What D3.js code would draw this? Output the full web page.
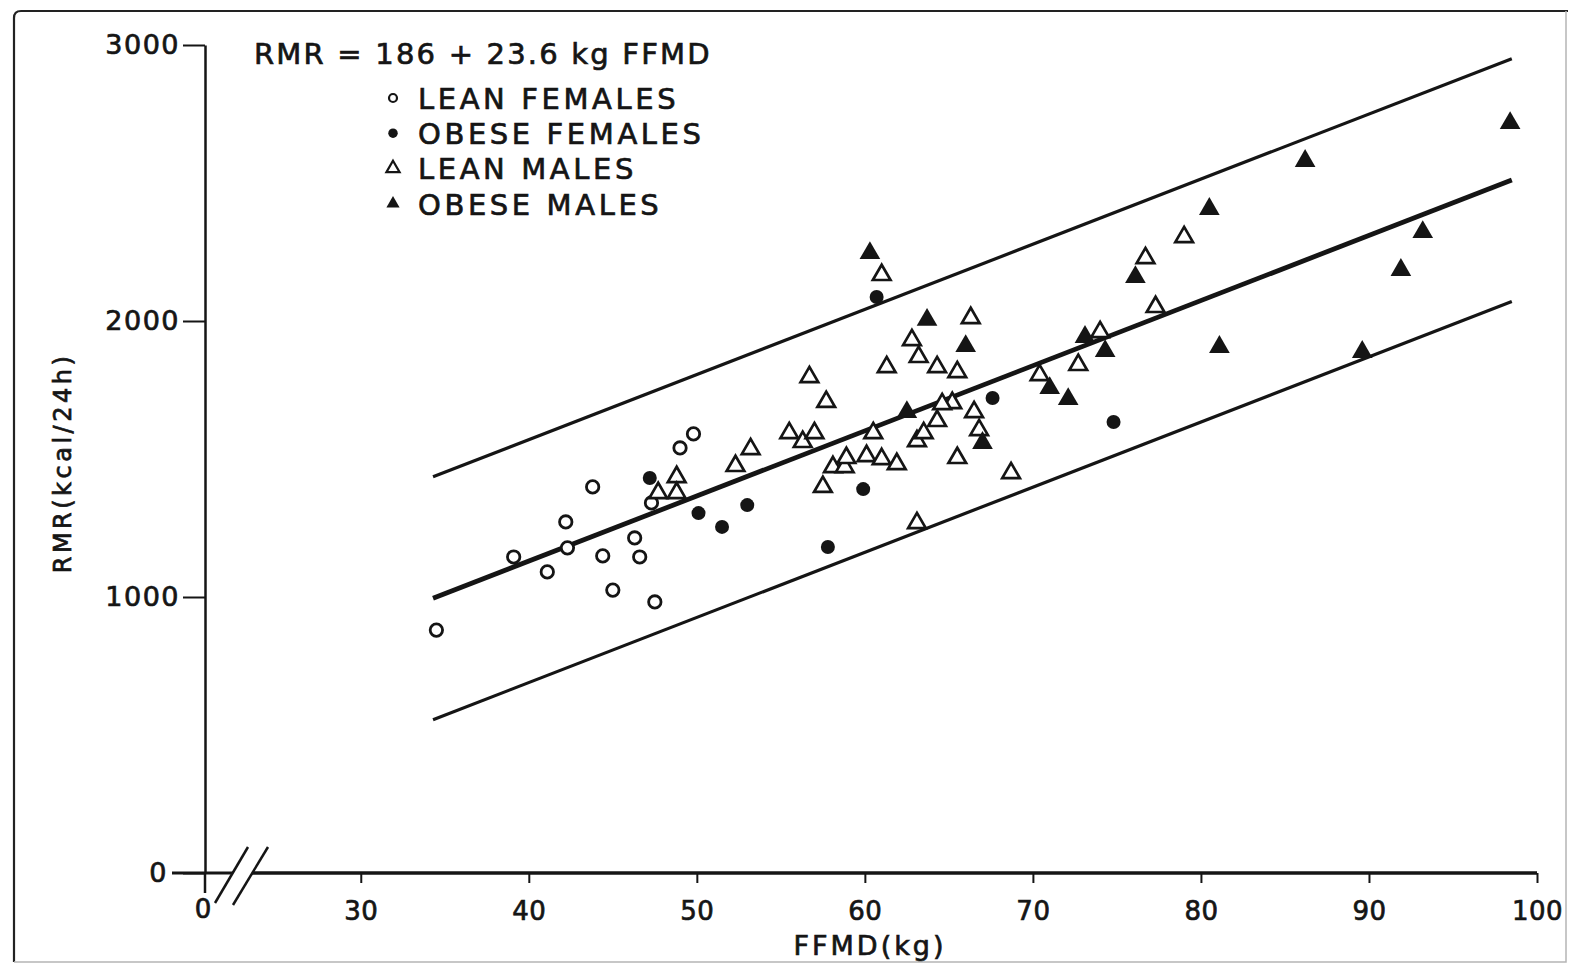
<!DOCTYPE html>
<html>
<head>
<meta charset="utf-8">
<script src="https://cdn.jsdelivr.net/npm/d3@7"></script>
<style>
	body { margin: 0; background: #fff; }
	svg { display: block; }
	text { font-family: "DejaVu Sans", sans-serif; fill: #151515; stroke: #151515; stroke-width: 0.7px; }
	.axis path, .axis line { stroke: #151515; }
</style>
</head>
<body>
<div class="chart"></div>
<script>
// DATA
// lean females (open circles)
var leanF_ffmd = [34.5, 39.1, 41.1, 42.2, 42.3, 43.8, 44.4, 45.0, 46.3, 46.6, 47.5, 47.3, 49.0, 49.8];
var leanF_rmr  = [880, 1145, 1091, 1272, 1178, 1399, 1149, 1025, 1214, 1145, 982, 1341, 1540, 1591];

// obese females (filled circles)
var obeseF_ffmd = [47.2, 50.1, 51.5, 53.0, 57.8, 59.9, 60.7, 67.6, 74.8];
var obeseF_rmr  = [1431, 1304, 1254, 1333, 1181, 1391, 2087, 1721, 1634];

// lean males (open triangles)
var leanM_ffmd = [47.7, 48.8, 48.8, 52.3, 53.2, 55.5, 56.3, 57.0, 56.7, 57.7,
	57.5, 58.1, 58.8, 58.9, 60.1, 61.0, 61.9, 60.5, 61.0, 61.3,
	62.8, 63.2, 64.3, 65.5, 66.3, 63.1, 63.5, 64.3, 65.2, 64.6,
	66.5, 66.8, 65.5, 68.7, 63.1, 70.4, 72.7, 74.0, 77.3, 76.7, 79.0];
var leanM_rmr  = [1377, 1435, 1377, 1475, 1536, 1594, 1562, 1594, 1797, 1707,
	1399, 1471, 1471, 1504, 1511, 1500, 1482, 1594, 2167, 1833,
	1931, 1870, 1833, 1815, 2011, 1565, 1594, 1638, 1703, 1699,
	1670, 1605, 1504, 1449, 1268, 1804, 1841, 1960, 2051, 2228, 2304];

// obese males (filled triangles)
var obeseM_ffmd = [60.3, 63.7, 66.0, 62.5, 67.0, 73.1, 74.3, 71.0, 72.1, 76.1, 80.5, 86.2, 98.4, 93.2, 91.9, 81.1, 89.6];
var obeseM_rmr  = [2246, 2004, 1909, 1670, 1558, 1942, 1891, 1757, 1717, 2159, 2406, 2580, 2717, 2322, 2185, 1906, 1888];

// regression RMR = 186 + 23.6 * FFMD, with band lines
var fit_intercept = 186;
var fit_slope = 23.6;
var fit_band = 440;
var fit_range = [34.3, 98.5];

var x_ticks = [30, 40, 50, 60, 70, 80, 90, 100];
var y_ticks = [0, 1000, 2000, 3000];

var legend_labels = ["LEAN FEMALES", "OBESE FEMALES", "LEAN MALES", "OBESE MALES"];
var equation_label = "RMR = 186 + 23.6 kg FFMD";

// INITIALIZATION PHASE
var width = 1574, height = 968;
var ink = "#151515";

var svg = d3.select(".chart")
	.append("svg")
	.attr("width", width)
	.attr("height", height);

var x = d3.scaleLinear()
	.domain([20.73, 100])
	.range([205, 1537]);

var y = d3.scaleLinear()
	.domain([0, 3000])
	.range([873, 45]);

var x0 = x.range()[0], y0 = y(0);

// page frame of the scan: dark top/left, faint right/bottom
svg.append("path")
	.attr("d", "M14,962 L14,18 Q14,11 21,11 L1568,11")
	.attr("fill", "none")
	.attr("stroke", "#222")
	.attr("stroke-width", 2.2);

svg.append("path")
	.attr("d", "M1566,11 L1566,962 L14,962")
	.attr("fill", "none")
	.attr("stroke", "#b5b5b5")
	.attr("stroke-width", 1.5);

// y axis
var yAxis = svg.append("g")
	.attr("class", "axis")
	.attr("transform", "translate(" + x0 + ",0)")
	.call(d3.axisLeft(y).tickValues(y_ticks).tickSize(22).tickSizeOuter(0).tickPadding(3).tickFormat(d3.format("d")));

yAxis.select(".domain").attr("stroke-width", 2.5);
yAxis.selectAll(".tick line").attr("stroke-width", 2);
yAxis.selectAll(".tick text")
	.attr("fill", ink)
	.style("font-size", "27px")
	.style("letter-spacing", "1.5px");
// the zero label sits further left, its tick merges with the x axis
yAxis.selectAll(".tick").filter(function(d) { return d === 0; })
	.select("text").attr("x", -37);

// x axis (ticks only, axis line drawn with the break)
var xAxis = svg.append("g")
	.attr("class", "axis")
	.attr("transform", "translate(0," + y0 + ")")
	.call(d3.axisBottom(x).tickValues(x_ticks).tickSize(10).tickSizeOuter(0).tickPadding(19));

xAxis.select(".domain").remove();
xAxis.selectAll(".tick line").attr("stroke-width", 2);
xAxis.selectAll(".tick text")
	.attr("fill", ink)
	.style("font-size", "26px")
	.style("letter-spacing", "0.5px");

// zero of the x axis at the origin
svg.append("line")
	.attr("x1", x0).attr("x2", x0)
	.attr("y1", y0).attr("y2", y0 + 20)
	.attr("stroke", ink).attr("stroke-width", 2.5);

svg.append("text")
	.attr("x", x0 - 2)
	.attr("y", y0 + 27)
	.attr("dy", "0.71em")
	.attr("text-anchor", "middle")
	.style("font-size", "26px")
	.text("0");

// axis line with break
svg.append("line")
	.attr("x1", x0 - 33).attr("x2", x0 + 28)
	.attr("y1", y0).attr("y2", y0)
	.attr("stroke", ink).attr("stroke-width", 3);

svg.append("line")
	.attr("x1", x0 + 47).attr("x2", x.range()[1])
	.attr("y1", y0).attr("y2", y0)
	.attr("stroke", ink).attr("stroke-width", 3.5);

[[10, 30, 43, -26], [28, 32, 63, -26]].forEach(function(s) {
	svg.append("line")
		.attr("x1", x0 + s[0]).attr("y1", y0 + s[1])
		.attr("x2", x0 + s[2]).attr("y2", y0 + s[3])
		.attr("stroke", ink).attr("stroke-width", 2.5);
});

// axis titles
svg.append("text")
	.attr("x", 870)
	.attr("y", 955)
	.attr("text-anchor", "middle")
	.style("font-size", "27px")
	.style("letter-spacing", "3px")
	.text("FFMD(kg)");

svg.append("text")
	.attr("transform", "translate(71,463) rotate(-90)")
	.attr("text-anchor", "middle")
	.style("font-size", "24px")
	.style("letter-spacing", "3.5px")
	.text("RMR(kcal/24h)");

// regression and band lines
var fitLine = d3.line()
	.x(function(d) { return x(d[0]); })
	.y(function(d) { return y(d[1]); });

[-fit_band, fit_band, 0].forEach(function(off) {
	svg.append("path")
		.attr("d", fitLine(fit_range.map(function(v) {
			return [v, fit_intercept + fit_slope * v + off];
		})))
		.attr("fill", "none")
		.attr("stroke", ink)
		.attr("stroke-width", off === 0 ? 4.8 : 3.2);
});

// DRAW POINTS
function zipPoints(xs, ys) {
	return xs.map(function(v, i) { return [v, ys[i]]; });
}

var triangle = d3.symbol().type(d3.symbolTriangle);

svg.append("g").selectAll("circle")
	.data(zipPoints(leanF_ffmd, leanF_rmr))
	.enter().append("circle")
		.attr("cx", function(d) { return x(d[0]); })
		.attr("cy", function(d) { return y(d[1]); })
		.attr("r", 6.2)
		.attr("fill", "#fff")
		.attr("stroke", ink)
		.attr("stroke-width", 2.8);

svg.append("g").selectAll("circle")
	.data(zipPoints(obeseF_ffmd, obeseF_rmr))
	.enter().append("circle")
		.attr("cx", function(d) { return x(d[0]); })
		.attr("cy", function(d) { return y(d[1]); })
		.attr("r", 7)
		.attr("fill", ink);

svg.append("g").selectAll("path")
	.data(zipPoints(leanM_ffmd, leanM_rmr))
	.enter().append("path")
		.attr("d", triangle.size(135)())
		.attr("transform", function(d) { return "translate(" + x(d[0]) + "," + y(d[1]) + ")"; })
		.attr("fill", "#fff")
		.attr("stroke", ink)
		.attr("stroke-width", 2.7);

svg.append("g").selectAll("path")
	.data(zipPoints(obeseM_ffmd, obeseM_rmr))
	.enter().append("path")
		.attr("d", triangle.size(185)())
		.attr("transform", function(d) { return "translate(" + x(d[0]) + "," + y(d[1]) + ")"; })
		.attr("fill", ink);

// LEGEND
svg.append("text")
	.attr("x", 254)
	.attr("y", 64)
	.style("font-size", "29px")
	.style("letter-spacing", "2.2px")
	.text(equation_label);

var legend = svg.append("g")
	.attr("transform", "translate(393,98)");

var rows = legend.selectAll("g")
	.data(legend_labels)
	.enter().append("g")
		.attr("transform", function(d, i) { return "translate(0," + (i * 35.2) + ")"; });

rows.append("path")
	.attr("d", function(d, i) {
		if (i < 2) return d3.symbol().type(d3.symbolCircle).size(i === 0 ? 50 : 70)();
		return triangle.size(75)();
	})
	.attr("fill", function(d, i) { return (i % 2) ? ink : "#fff"; })
	.attr("stroke", ink)
	.attr("stroke-width", function(d, i) { return (i % 2) ? 0 : 2.2; });

rows.append("text")
	.attr("x", 25)
	.attr("y", 11)
	.style("font-size", "29px")
	.style("letter-spacing", "3.6px")
	.text(function(d) { return d; });
</script>
</body>
</html>
